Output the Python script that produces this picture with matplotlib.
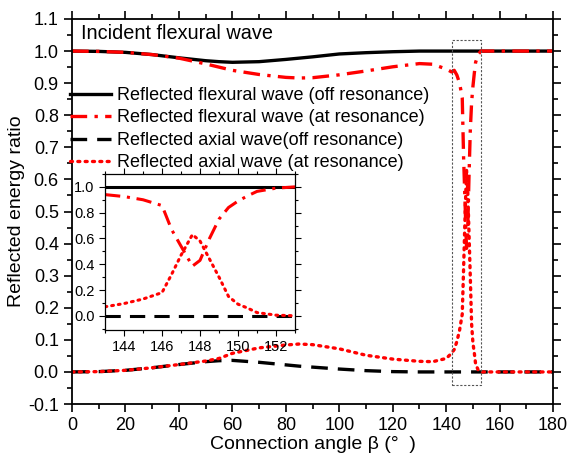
import numpy as np
import matplotlib
matplotlib.use('Agg')
import matplotlib.pyplot as plt
from matplotlib.patches import Rectangle
from matplotlib.ticker import MultipleLocator

plt.rcParams['font.family'] = ['Liberation Sans', 'DejaVu Sans']

# broad sweep of connection angle (deg)
angle_broad = [0, 10, 20, 30, 40, 50, 55, 60, 70, 80, 85, 90, 100, 110, 120, 130, 135, 140, 142]
flex_off_broad = [1.0, 0.999, 0.996, 0.989, 0.979, 0.970, 0.967, 0.965, 0.967, 0.974, 0.978, 0.982,
                  0.991, 0.995, 0.998, 1.0, 1.0, 1.0, 1.0]
flex_res_broad = [1.0, 0.999, 0.996, 0.989, 0.978, 0.960, 0.950, 0.940, 0.927, 0.918, 0.916, 0.917,
                  0.926, 0.938, 0.951, 0.961, 0.959, 0.944, 0.935]
axial_off_broad = [0.0, 0.001, 0.005, 0.013, 0.023, 0.032, 0.035, 0.036, 0.030, 0.022, 0.018, 0.015,
                   0.009, 0.004, 0.001, 0.0, 0.0, 0.0, 0.0]
axial_res_broad = [0.0, 0.001, 0.005, 0.013, 0.023, 0.034, 0.042, 0.058, 0.075, 0.084, 0.087, 0.085,
                   0.072, 0.052, 0.040, 0.033, 0.032, 0.042, 0.058]

# fine sweep around the resonance
angle_fine = [143, 144, 145, 146, 146.5, 147, 147.6, 148, 148.5, 149, 149.5, 150, 150.5, 151, 152, 153]
flex_off_fine = [1.0] * 16
flex_res_fine = [0.94, 0.925, 0.90, 0.855, 0.67, 0.54, 0.385, 0.43, 0.60, 0.75, 0.84, 0.89, 0.93,
                 0.965, 0.99, 1.0]
axial_off_fine = [0.0] * 16
axial_res_fine = [0.07, 0.095, 0.13, 0.18, 0.32, 0.47, 0.63, 0.58, 0.44, 0.30, 0.15, 0.09, 0.06,
                  0.025, 0.005, 0.0]

# tail
angle_tail = [155, 160, 170, 180]
flex_tail = [1.0, 1.0, 1.0, 1.0]
axial_tail = [0.0, 0.0, 0.0, 0.0]

angle = np.array(angle_broad + angle_fine + angle_tail)
flex_off = np.array(flex_off_broad + flex_off_fine + flex_tail)
flex_res = np.array(flex_res_broad + flex_res_fine + flex_tail)
axial_off = np.array(axial_off_broad + axial_off_fine + axial_tail)
axial_res = np.array(axial_res_broad + axial_res_fine + axial_tail)

labels = ['Reflected flexural wave (off resonance)',
          'Reflected flexural wave (at resonance)',
          'Reflected axial wave(off resonance)',
          'Reflected axial wave (at resonance)']

fig = plt.figure(figsize=(5.68, 4.61), dpi=100)
ax = fig.add_axes([0.1268, 0.1236, 0.847, 0.8352])

dashdot = (0, (5, 2.2, 1, 2.2))
dashed = (0, (5, 3))
dotted = (0, (0.6, 1.6))

def draw(a, x, lw):
    a.plot(x[0], x[1], color='black', lw=lw, label=labels[0])
    a.plot(x[0], x[2], color='red', lw=lw, ls=dashdot, label=labels[1])
    a.plot(x[0], x[3], color='black', lw=lw, ls=dashed, label=labels[2])
    a.plot(x[0], x[4], color='red', lw=lw, ls=dotted, dash_capstyle='round', label=labels[3])

draw(ax, (angle, flex_off, flex_res, axial_off, axial_res), 2.4)

ax.set_xlim(0, 180)
ax.set_ylim(-0.1, 1.1)
ax.xaxis.set_major_locator(MultipleLocator(20))
ax.xaxis.set_minor_locator(MultipleLocator(10))
ax.yaxis.set_major_locator(MultipleLocator(0.1))
ax.yaxis.set_minor_locator(MultipleLocator(0.05))
ax.set_yticklabels([f'{v:.1f}' for v in ax.get_yticks()])
ax.tick_params(which='both', direction='out', top=True, right=True, width=1.2, labelsize=13)
ax.tick_params(which='major', length=6)
ax.tick_params(which='minor', length=3.5)
for s in ax.spines.values():
    s.set_linewidth(1.3)
ax.set_xlabel('Connection angle β (°  )', fontsize=14, labelpad=1)
ax.set_ylabel('Reflected energy ratio', fontsize=14, labelpad=2)

ax.text(3.5, 1.056, 'Incident flexural wave', fontsize=14.3, va='center', ha='left')

ax.add_patch(Rectangle((142.3, -0.04), 10.9, 1.075, fill=False, ls=(0, (2, 1.5)),
                       lw=0.8, edgecolor='#555555', zorder=5))

ax.legend(loc='upper left', bbox_to_anchor=(-0.02, 0.842), frameon=False, fontsize=13,
          handlelength=2.3, handletextpad=0.3, labelspacing=0.3, borderaxespad=0)

# inset
axin = fig.add_axes([0.1849, 0.2842, 0.3345, 0.3384])
fine = (np.array(angle_fine), np.array(flex_off_fine), np.array(flex_res_fine),
        np.array(axial_off_fine), np.array(axial_res_fine))
draw(axin, fine, 2.2)
axin.set_xlim(143, 153)
axin.set_ylim(-0.11, 1.1)
axin.xaxis.set_minor_locator(MultipleLocator(1))
axin.yaxis.set_minor_locator(MultipleLocator(0.1))
axin.set_yticks([0.0, 0.2, 0.4, 0.6, 0.8, 1.0])
axin.set_yticklabels(['0.0', '0.2', '0.4', '0.6', '0.8', '1.0'])
axin.set_xticks([144, 146, 148, 150, 152])
axin.tick_params(which='both', direction='out', top=True, right=True, width=0.8, labelsize=10.5)
axin.tick_params(which='major', length=4)
axin.tick_params(which='minor', length=2.5)
for s in axin.spines.values():
    s.set_linewidth(0.9)

fig.savefig('out.png', dpi=100)
